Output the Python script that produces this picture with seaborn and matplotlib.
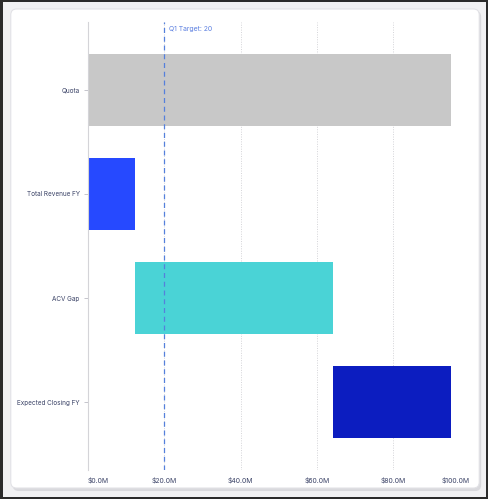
import matplotlib
matplotlib.use("Agg")
import matplotlib.pyplot as plt
import seaborn as sns
import pandas as pd
from matplotlib.patches import FancyBboxPatch, Rectangle

# Waterfall data ($M)
categories = ["Quota", "Total Revenue FY", "ACV Gap", "Expected Closing FY"]
starts = [0.0, 0.0, 12.3, 64.3]
lengths = [95.1, 12.3, 52.0, 30.8]
colors = ["#C8C8C8", "#2649FF", "#4AD3D6", "#0C1DC0"]
tick_values = [0, 20, 40, 60, 80, 100]
tick_labels = ["$0.0M", "$20.0M", "$40.0M", "$60.0M", "$80.0M", "$100.0M"]
target = 20
target_label = "Q1 Target: 20"

df = pd.DataFrame({"category": categories, "start": starts, "length": lengths})
df["end"] = df["start"] + df["length"]

sns.set_style("white")
plt.rcParams["font.family"] = ["Inter", "DejaVu Sans"]

fig = plt.figure(figsize=(4.89, 4.99), dpi=100)
fig.patch.set_facecolor("#2b2b2b")

# card background
fig.patches.append(Rectangle((0.006, 0.004), 0.988, 0.992, transform=fig.transFigure,
                             facecolor="#f1f1f3", edgecolor="none", zorder=-3))
fig.patches.append(FancyBboxPatch((0.026, 0.016), 0.958, 0.962, transform=fig.transFigure,
                                  boxstyle="round,pad=0,rounding_size=0.012",
                                  facecolor="#d9d9dd", edgecolor="none", zorder=-2))
fig.patches.append(FancyBboxPatch((0.022, 0.022), 0.958, 0.96, transform=fig.transFigure,
                                  boxstyle="round,pad=0,rounding_size=0.012",
                                  facecolor="white", edgecolor="#e2e2e6", lw=0.8, zorder=-1))

ax = fig.add_axes([88 / 489, 1 - 470 / 499, (469.3 - 88) / 489, (470 - 22) / 499])
ax.set_facecolor("none")

sns.barplot(data=df, y="category", x="end", order=categories, orient="h",
            palette=colors, hue="category", legend=False, width=0.69,
            ax=ax, saturation=1, zorder=2)
# shift each bar to its floating start
for patch, s, l in zip(ax.patches, df["start"], df["length"]):
    patch.set_x(s)
    patch.set_width(l)
    patch.set_edgecolor("none")

ax.set_xlim(0, 100)
ax.set_ylim(3.65, -0.65)
ax.set_xticks(tick_values)
ax.set_xticklabels(tick_labels)
xl = ax.get_xticklabels()
xl[0].set_ha("left")
xl[-1].set_ha("right")
ax.set_xlabel("")
ax.set_ylabel("")

ax.grid(axis="x", color="#d4d4d8", linestyle=(0, (1, 1.5)), linewidth=0.7, zorder=0)
ax.grid(axis="y", visible=False)
for side in ["top", "right", "bottom"]:
    ax.spines[side].set_visible(False)
ax.spines["left"].set_color("#d4d4d8")
ax.spines["left"].set_linewidth(0.8)

ax.tick_params(axis="x", length=0, labelsize=4.9, colors="#3a4266", pad=5)
ax.tick_params(axis="y", length=3, width=0.6, color="#bbbbc4", labelsize=4.6,
               labelcolor="#3a4266", pad=3, left=True)

ax.axvline(target, color="#5580dc", linestyle=(0, (4, 3)), linewidth=0.9, zorder=3)
ax.text(target + 1.2, -0.58, target_label, color="#5a7ee0", fontsize=4.9,
        ha="left", va="center")

fig.savefig("out.png", dpi=100, facecolor=fig.get_facecolor())
